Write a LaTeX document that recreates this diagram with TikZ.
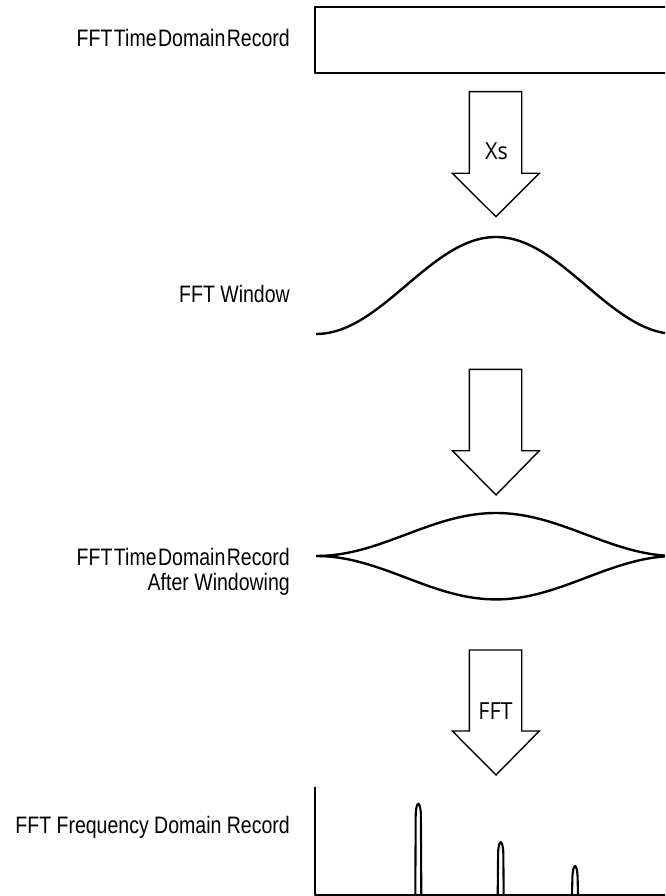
\documentclass[tikz,border=0pt]{standalone}
\usepackage{fontspec}
\setmainfont{Liberation Sans}[FakeStretch=0.82]
\newfontfamily\arrowfont{Open Sans}[FakeStretch=0.92]
\begin{document}
\begin{tikzpicture}[x=1pt,y=-1pt,
  lbl/.style={font=\fontsize{23.8}{25.7}\selectfont, inner sep=0pt, anchor=base east, align=right},
  arrlbl/.style={font=\arrowfont\fontsize{23.5}{25}\selectfont, inner sep=0pt, anchor=base},
  heavy/.style={line width=2.4pt, line join=round},
  bigarrow/.style={line width=1.4pt, line join=miter, fill=white},
  peak/.style={line width=2.1pt}]
\useasboundingbox (0,0) rectangle (665,896);
\clip (0,0) rectangle (665,896);

% labels on the left
\node[lbl] (tdr) at (290,47) {FFT\hspace{1.5pt}Time\hspace{1.5pt}Domain\hspace{1.5pt}Record};
\node[lbl] (win) at (290,302) {FFT Window};
\node[lbl] (tdra) at (290,565) {FFT\hspace{1.5pt}Time\hspace{1.5pt}Domain\hspace{1.5pt}Record};
\node[lbl] (tdrb) at (290,590.7) {After Windowing};
\node[lbl] (fdr) at (290,833) {FFT Frequency Domain Record};

% time domain record box
\draw[heavy] (315,7) rectangle (672,73);

% block arrows
\foreach \t/\s/\b in {91.7/173.3/216.7, 369.3/450.7/495, 650/731/775} {
  \draw[bigarrow] (469.3,\t) -- (521.7,\t) -- (521.7,\s) -- (539.3,\s)
    -- (496,\b) -- (452.3,\s) -- (469.3,\s) -- cycle;
}
\node[arrlbl] (xs) at (496.5,160) {Xs};
\node[arrlbl] (fft) at (495.5,719.3) {FFT};

% window
\draw[heavy] plot[domain=316:665, samples=120, smooth] (\x,{334-48.5*(1+cos(\x-496))});

% windowed record
\draw[heavy] plot[domain=316:665, samples=120, smooth] (\x,{556-21.5*(1+cos(\x-496))});
\draw[heavy] plot[domain=316:665, samples=120, smooth] (\x,{556+21.7*(1+cos(\x-496))});

% frequency domain record
\draw[heavy] (315,786.7) -- (315,895) -- (672,895);
\foreach \px/\pt in {418.3/801.7, 500.7/840, 575/864} {
  \draw[peak] (\px-3,895) -- (\px-2.6,\pt+13)
    .. controls (\px-2,\pt-1.5) and (\px+2,\pt-1.5) .. (\px+2.6,\pt+13) -- (\px+3,895);
}
\end{tikzpicture}
\end{document}
